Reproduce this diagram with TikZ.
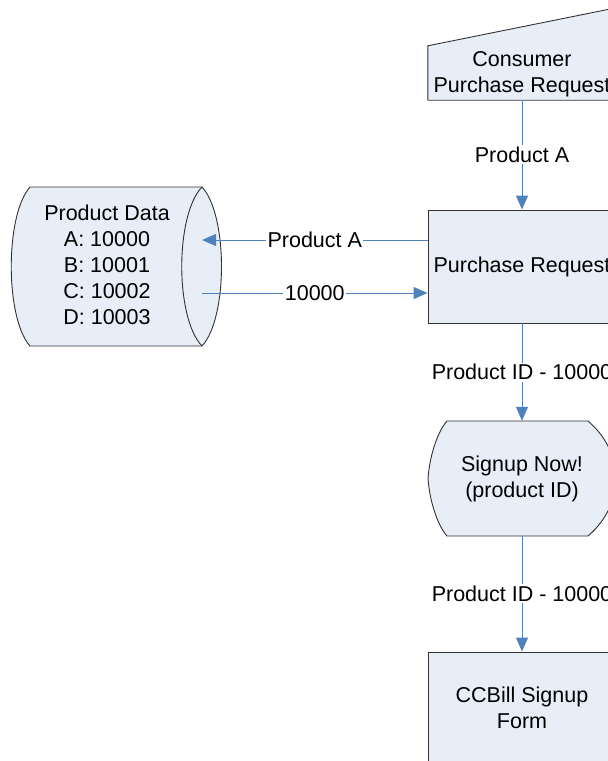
\documentclass[tikz,border=0pt]{standalone}
\usepackage{fontspec}
\setmainfont{Liberation Sans}
\usetikzlibrary{arrows.meta}
\definecolor{shapefill}{RGB}{232,238,247}
\definecolor{flowblue}{RGB}{79,129,189}
\definecolor{edgegray}{RGB}{50,50,50}
\tikzset{
	txt/.style={font=\fontsize{21.5}{26}\selectfont, align=center, inner sep=0pt},
	shapeline/.style={draw=edgegray, line width=0.9pt, fill=shapefill},
	procbox/.style={txt, shapeline, minimum width=188pt},
	flow/.style={draw=flowblue, line width=1pt, -{Triangle[length=14pt,width=12pt]}},
	lbl/.style={txt, fill=white, inner sep=1.5pt}
}

\begin{document}
\begin{tikzpicture}[x=1pt, y=-1pt]
			%%%%% START %%%%%
			\useasboundingbox (0,0) rectangle (608,761);
			\clip (0,0) rectangle (608,761);
			
			% consumer purchase request (manual input)
			\node[txt, minimum width=188pt, minimum height=54pt] (consumer) at (522,73) {};
			\draw[shapeline] (consumer.south west) -- (consumer.north west) -- ([yshift=38pt]consumer.north east) -- (consumer.south east) -- cycle;
			\node[txt] at ([yshift=-1.5pt]consumer) {Consumer\\Purchase Request};
			
			\node[procbox, minimum height=113pt] (purchase) at (522,266.5) {Purchase Request};
			
			% product data (stored data)
			\draw[shapeline] (30,187) -- (202,187) .. controls (228,215) and (228,318) .. (202,346) -- (30,346) .. controls (5,318) and (5,215) .. (30,187) -- cycle;
			\draw[edgegray, line width=0.9pt] (202,187) .. controls (175,215) and (175,318) .. (202,346);
			\node[txt] (data) at (107,265) {Product Data\\A: 10000\\B: 10001\\C: 10002\\D: 10003};
			\coordinate (datain) at (202,240);
			\coordinate (dataout) at (202,293);
			
			% signup now (display)
			\node[txt, minimum width=188pt, minimum height=115pt] (signup) at (522,478.5) {};
			\draw[shapeline] (447,421) -- (588,421) .. controls (608,438) and (616,460) .. (616,478.5) .. controls (616,497) and (608,519) .. (588,536) -- (447,536) .. controls (439,527) and (430,505) .. (428,478.5) .. controls (430,452) and (439,430) .. (447,421) -- cycle;
			\node[txt] at (signup) {Signup Now!\\(product ID)};
			
			\node[procbox, minimum height=111pt] (ccbill) at (522,707.5) {CCBill Signup\\Form};
			
			% connectors
			\draw[flow] (consumer.south) -- node[lbl] {Product A} (purchase.north);
			\draw[flow] (purchase.west |- datain) -- node[lbl] {Product A} (datain);
			\draw[flow] (dataout) -- node[lbl] {10000} (purchase.west |- dataout);
			\draw[flow] (purchase.south) -- node[lbl] {Product ID - 10000} (signup.north);
			\draw[flow] (signup.south) -- node[lbl] {Product ID - 10000} (ccbill.north);
			
			%%%%% END %%%%%
		\end{tikzpicture}
\end{document}
